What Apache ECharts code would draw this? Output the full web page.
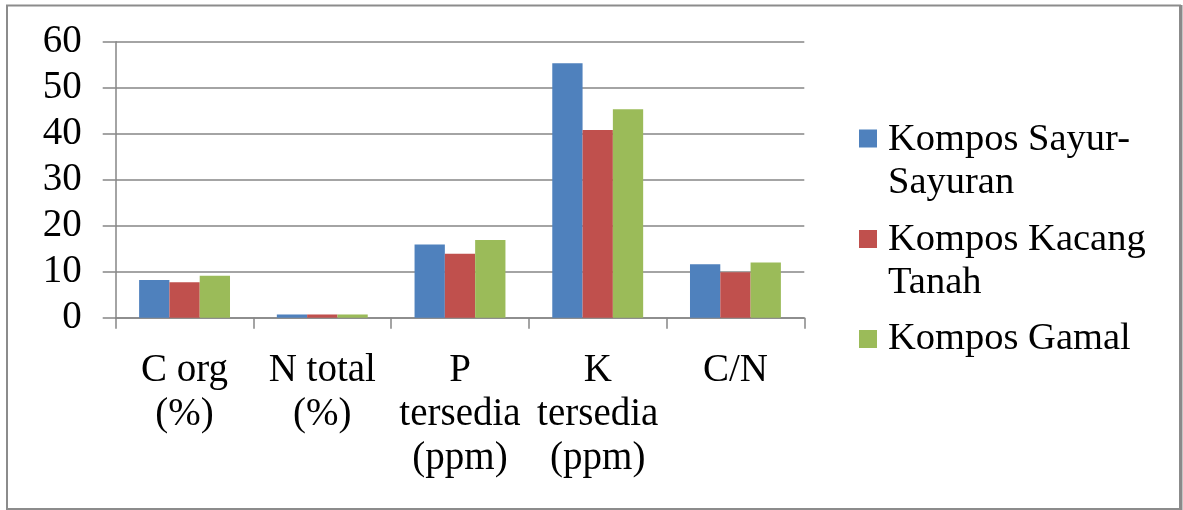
<!DOCTYPE html>
<html>
<head>
<meta charset="utf-8">
<script src="https://cdn.jsdelivr.net/npm/echarts@6/dist/echarts.min.js"></script>
<style>
  html, body { margin: 0; padding: 0; background: #fff; }
  #chart { width: 1183px; height: 510px; }
</style>
</head>
<body>
<div id="chart"></div>
<script>
// Soil nutrient content of three composts
const categories = ['C org\n(%)', 'N total\n(%)', 'P\ntersedia\n(ppm)', 'K\ntersedia\n(ppm)', 'C/N'];
const seriesNames = ['Kompos Sayur-Sayuran', 'Kompos Kacang Tanah', 'Kompos Gamal'];
const legendText = ['Kompos Sayur-\nSayuran', 'Kompos Kacang\nTanah', 'Kompos Gamal'];
const sayurValues = [8.2, 0.7, 15.9, 55.3, 11.6];
const kacangValues = [7.7, 0.7, 13.9, 40.8, 9.9];
const gamalValues = [9.1, 0.7, 16.9, 45.3, 12.0];
const yTicks = { min: 0, max: 60, interval: 10 };

const colors = ['#4F81BD', '#C0504D', '#9BBB59'];
const FONT = '"Liberation Serif", "Times New Roman", serif';
const values = [sayurValues, kacangValues, gamalValues];

// Two-line legend entries: a tall item box with the swatch placed beside the first line
const LINE_H = 43;
const tallIcon = 'path://M0,0L0,0M0,11.5L18,11.5L18,29.5L0,29.5ZM0,86L0,86';
const legendTops = [118, 218.5, 317.5];
const legends = seriesNames.map((name, i) => {
  const twoLine = legendText[i].indexOf('\n') >= 0;
  return {
    orient: 'vertical',
    left: 859,
    top: legendTops[i],
    padding: 0,
    itemWidth: 18,
    itemHeight: twoLine ? LINE_H * 2 : 18,
    icon: twoLine ? tallIcon : 'rect',
    symbolKeepAspect: false,
    data: [name],
    formatter: () => legendText[i],
    textStyle: {
      fontFamily: FONT,
      fontSize: 38.5,
      color: '#000',
      lineHeight: LINE_H,
      padding: [0, 0, 0, 6]
    }
  };
});

const chart = echarts.init(document.getElementById('chart'), null, { renderer: 'canvas' });
chart.setOption({
  animation: false,
  color: colors,
  graphic: [
    {
      type: 'rect',
      shape: { x: 7, y: 5.5, width: 1173, height: 503.5 },
      style: { fill: 'none', stroke: '#8c8c8c', lineWidth: 2 },
      silent: true
    },
    {
      type: 'line',
      shape: { x1: 1181, y1: 5, x2: 1181, y2: 510 },
      style: { stroke: '#8a8a8a', lineWidth: 3 },
      silent: true
    }
  ],
  legend: legends,
  grid: { left: 115.7, right: 378.7, top: 41.7, bottom: 192.3, containLabel: false },
  xAxis: {
    type: 'category',
    data: categories,
    axisLine: { lineStyle: { color: '#868686', width: 1.5 } },
    axisTick: { show: true, length: 11, alignWithLabel: false, lineStyle: { color: '#868686', width: 1.5 } },
    axisLabel: {
      interval: 0,
      margin: 31,
      fontFamily: FONT,
      fontSize: 39,
      lineHeight: 44,
      color: '#000'
    }
  },
  yAxis: {
    type: 'value',
    min: yTicks.min,
    max: yTicks.max,
    interval: yTicks.interval,
    axisLine: { show: true, lineStyle: { color: '#868686', width: 1.5 } },
    axisTick: { show: true, length: 13, lineStyle: { color: '#868686', width: 1.5 } },
    splitLine: { show: true, lineStyle: { color: '#868686', width: 1.5 } },
    axisLabel: {
      margin: 34,
      fontFamily: FONT,
      fontSize: 39,
      color: '#000'
    }
  },
  series: seriesNames.map((name, i) => ({
    name: name,
    type: 'bar',
    data: values[i],
    barGap: '0%',
    barCategoryGap: '34%',
    itemStyle: { color: colors[i] }
  }))
});
</script>
</body>
</html>
